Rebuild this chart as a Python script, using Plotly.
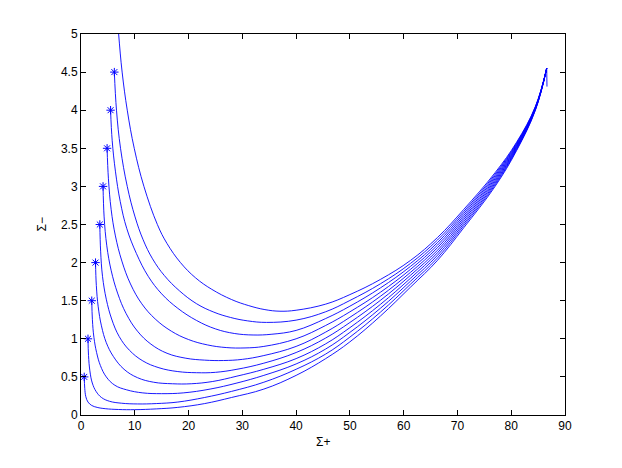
import plotly.graph_objects as go

# ---- data ----
c1_x = [0.6, 0.7, 0.9, 1.3, 2, 3, 4.5, 7, 10, 14, 18, 23, 28, 34, 40, 45.5, 50, 55.7, 61.3, 66.3, 71.2, 77, 81, 84.5, 86.6]
c1_y = [0.5, 0.35, 0.24, 0.17, 0.125, 0.1, 0.083, 0.072, 0.07, 0.08, 0.1, 0.15, 0.23, 0.34, 0.52, 0.74, 0.96, 1.30, 1.68, 2.03, 2.46, 3.0, 3.47, 4.0, 4.55]

c2_x = [1.3, 1.4, 1.65, 2.1, 2.8, 3.8, 5.3, 7.5, 10.5, 14, 18, 23, 28, 34, 40, 45.5, 50, 55.7, 61.3, 66.3, 71.2, 77, 81, 84.5, 86.6]
c2_y = [1.0, 0.78, 0.58, 0.42, 0.31, 0.23, 0.18, 0.155, 0.145, 0.15, 0.17, 0.23, 0.31, 0.43, 0.60, 0.80, 1.022, 1.351, 1.719, 2.063, 2.487, 3.02, 3.482, 4.006, 4.55]

c3_x = [2.0, 2.12, 2.4, 2.9, 3.6, 4.7, 6.3, 8.5, 11.5, 15, 19, 24, 29, 34, 40, 45.5, 50, 55.7, 61.3, 66.3, 71.2, 77, 81, 84.5, 86.6]
c3_y = [1.5, 1.25, 1.02, 0.82, 0.65, 0.5, 0.39, 0.33, 0.29, 0.28, 0.29, 0.34, 0.42, 0.52, 0.67, 0.866, 1.084, 1.402, 1.758, 2.097, 2.513, 3.04, 3.494, 4.011, 4.55]

c4_x = [2.7, 2.85, 3.2, 3.8, 4.7, 6, 8, 10.5, 13.5, 17, 20.5, 24.5, 29, 34, 40, 45.5, 50, 55.7, 61.3, 66.3, 71.2, 77, 81, 84.5, 86.6]
c4_y = [2.0, 1.7, 1.42, 1.17, 0.95, 0.77, 0.6, 0.49, 0.43, 0.41, 0.41, 0.44, 0.51, 0.6, 0.74, 0.934, 1.146, 1.453, 1.797, 2.13, 2.54, 3.06, 3.507, 4.017, 4.55]

c5_x = [3.5, 3.65, 4.0, 4.7, 5.7, 7.1, 9, 11.5, 14.5, 18, 21.5, 25, 29, 34, 40, 45.5, 50, 55.7, 61.3, 66.3, 71.2, 77, 81, 84.5, 86.6]
c5_y = [2.5, 2.15, 1.82, 1.52, 1.26, 1.03, 0.85, 0.71, 0.62, 0.57, 0.555, 0.56, 0.6, 0.68, 0.82, 1.01, 1.214, 1.506, 1.836, 2.163, 2.567, 3.08, 3.519, 4.022, 4.55]

c6_x = [4.1, 4.3, 4.8, 5.6, 6.8, 8.4, 10.5, 13, 16, 19.5, 23, 26.5, 30, 34, 40, 45.5, 50, 55.7, 61.3, 66.3, 71.2, 77, 81, 84.5, 86.6]
c6_y = [3.0, 2.6, 2.22, 1.9, 1.6, 1.33, 1.1, 0.93, 0.81, 0.745, 0.72, 0.715, 0.73, 0.78, 0.90, 1.088, 1.282, 1.559, 1.874, 2.197, 2.593, 3.10, 3.531, 4.028, 4.55]

c7_x = [4.85, 5.1, 5.6, 6.4, 7.6, 9.2, 11.3, 13.8, 16.8, 20, 23.5, 27, 30.5, 34, 40, 45.5, 50, 55.7, 61.3, 66.3, 71.2, 77, 81, 84.5, 86.6]
c7_y = [3.5, 3.1, 2.7, 2.35, 2.02, 1.72, 1.46, 1.26, 1.1, 0.99, 0.92, 0.885, 0.88, 0.9, 1.0, 1.175, 1.354, 1.612, 1.913, 2.23, 2.62, 3.12, 3.543, 4.033, 4.55]

c8_x = [5.5, 5.8, 6.4, 7.3, 8.5, 10.3, 12.5, 15, 18, 21.5, 25, 28.5, 32, 35.5, 40, 45.5, 50, 55.7, 61.3, 66.3, 71.2, 77, 81, 84.5, 86.6]
c8_y = [4.0, 3.6, 3.2, 2.8, 2.45, 2.12, 1.82, 1.59, 1.40, 1.24, 1.13, 1.07, 1.05, 1.06, 1.11, 1.266, 1.428, 1.669, 1.952, 2.263, 2.647, 3.14, 3.556, 4.039, 4.55]

c9_x = [6.2, 6.6, 7.35, 8.6, 10.05, 11.55, 13.3, 15.5, 18.3, 21.5, 24.7, 27.8, 31, 34.5, 40, 45.5, 50, 55.7, 61.3, 66.3, 71.2, 77, 81, 84.5, 86.6]
c9_y = [4.5, 4.0, 3.5, 3.0, 2.6, 2.3, 2.05, 1.83, 1.63, 1.46, 1.35, 1.28, 1.235, 1.215, 1.245, 1.355, 1.503, 1.723, 1.991, 2.297, 2.673, 3.16, 3.568, 4.044, 4.55]

c10_x = [6.5, 7.0, 7.65, 8.6, 9.9, 11.7, 14.2, 16.0, 18.5, 21.3, 24.3, 28.0, 31.2, 34.2, 37, 40, 45.5, 50, 55.7, 61.3, 66.3, 71.2, 77, 81, 84.5, 86.6]
c10_y = [5.5, 5.0, 4.5, 4.0, 3.5, 3.0, 2.5, 2.25, 2.0, 1.8, 1.65, 1.515, 1.435, 1.383, 1.362, 1.375, 1.455, 1.58, 1.78, 2.03, 2.33, 2.70, 3.18, 3.58, 4.05, 4.55]

hook_x = [86.6, 86.65]
hook_y = [4.55, 4.31]

star_x = [0.6, 1.3, 2.0, 2.7, 3.5, 4.1, 4.85, 5.5, 6.2]
star_y = [0.5, 1.0, 1.5, 2.0, 2.5, 3.0, 3.5, 4.0, 4.5]

x_ticks = [0, 10, 20, 30, 40, 50, 60, 70, 80, 90]
y_ticks = [0, 0.5, 1, 1.5, 2, 2.5, 3, 3.5, 4, 4.5, 5]

curves = [(c1_x, c1_y), (c2_x, c2_y), (c3_x, c3_y), (c4_x, c4_y), (c5_x, c5_y),
          (c6_x, c6_y), (c7_x, c7_y), (c8_x, c8_y), (c9_x, c9_y), (c10_x, c10_y)]

BLUE = "#0000ff"
fig = go.Figure()
for cx, cy in curves:
    fig.add_trace(go.Scatter(x=cx, y=cy, mode="lines",
                             line=dict(color=BLUE, width=0.9, shape="spline", smoothing=1.1),
                             showlegend=False, hoverinfo="skip"))
fig.add_trace(go.Scatter(x=hook_x, y=hook_y, mode="lines",
                         line=dict(color=BLUE, width=0.9), showlegend=False, hoverinfo="skip"))
fig.add_trace(go.Scatter(x=star_x, y=star_y, mode="markers",
                         marker=dict(symbol="asterisk-open", size=7, color=BLUE,
                                     line=dict(color=BLUE, width=1)),
                         showlegend=False, hoverinfo="skip"))

axis_common = dict(showgrid=False, zeroline=False, showline=True, linecolor="black",
                   linewidth=1, mirror="ticks", ticks="inside", ticklen=5,
                   tickcolor="black", tickfont=dict(family="Liberation Sans", size=12, color="black"))

# page body has an 8 px margin, so the figure is shifted by 8 px
fig.update_layout(
    width=606, height=452,
    margin=dict(l=73, r=49, t=26, b=45),
    paper_bgcolor="white", plot_bgcolor="white",
    xaxis=dict(range=[0, 90], tickvals=x_ticks, **axis_common),
    yaxis=dict(range=[0, 5], tickvals=y_ticks, **axis_common),
    annotations=[
        dict(text="Σ+", xref="paper", yref="paper", x=0.5, y=-0.071,
             xanchor="center", yanchor="middle", showarrow=False,
             font=dict(family="Liberation Sans", size=12, color="black")),
        dict(text="Σ−", xref="paper", yref="paper", x=-0.0826, y=0.5, textangle=-90,
             xanchor="center", yanchor="middle", showarrow=False,
             font=dict(family="Liberation Sans", size=12, color="black")),
    ],
)

fig.write_html("out.html")
